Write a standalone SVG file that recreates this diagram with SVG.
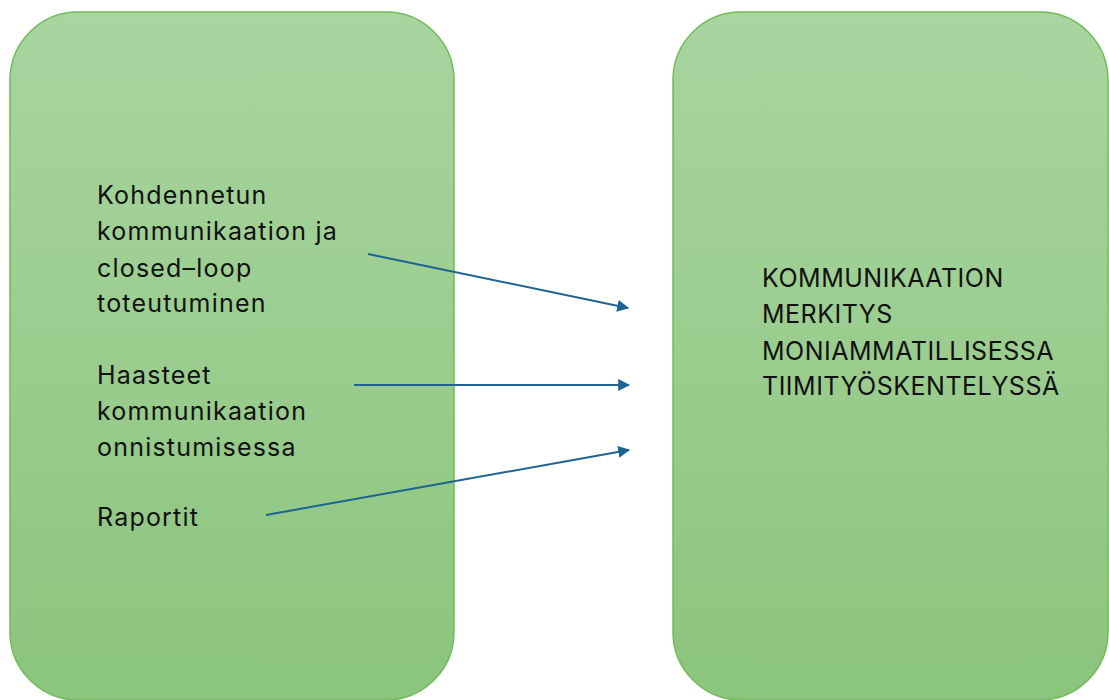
<svg xmlns="http://www.w3.org/2000/svg" width="1109" height="700" viewBox="0 0 1109 700">
  <style>
    .box { stroke: #70bc57; stroke-width: 1.5; }
    .lbl { font-family: Inter, "Open Sans", "Liberation Sans", sans-serif; font-size: 25px; letter-spacing: 1.2px; fill: #111; }
    .caps { letter-spacing: 0.5px; }
    .conn { stroke: #1f6391; stroke-width: 2; fill: none; marker-end: url(#arrow); }
  </style>
  <defs>
    <linearGradient id="green" x1="0" y1="0" x2="0" y2="1">
      <stop offset="0" stop-color="#a9d5a0"/>
      <stop offset="1" stop-color="#8bc47d"/>
    </linearGradient>
    <marker id="arrow" viewBox="0 0 10 10" refX="9" refY="5" markerWidth="6" markerHeight="6" orient="auto" markerUnits="strokeWidth">
      <path d="M0,0 L10,5 L0,10 z" fill="#1f6391"/>
    </marker>
  </defs>

  <g id="node-left">
    <rect class="box" x="10" y="12" width="444" height="688" rx="68" ry="68" fill="url(#green)"/>
    <text class="lbl" x="97" y="204">Kohdennetun</text>
    <text class="lbl" x="97" y="240">kommunikaation ja</text>
    <text class="lbl" x="97" y="277">closed–loop</text>
    <text class="lbl" x="97" y="312">toteutuminen</text>
    <text class="lbl" x="97" y="384">Haasteet</text>
    <text class="lbl" x="97" y="420">kommunikaation</text>
    <text class="lbl" x="97" y="456">onnistumisessa</text>
    <text class="lbl" x="97" y="526">Raportit</text>
  </g>

  <g id="node-right">
    <rect class="box" x="673" y="12" width="435" height="688" rx="68" ry="68" fill="url(#green)"/>
    <text class="lbl caps" x="762" y="287">KOMMUNIKAATION</text>
    <text class="lbl caps" x="762" y="323">MERKITYS</text>
    <text class="lbl caps" x="762" y="360">MONIAMMATILLISESSA</text>
    <text class="lbl caps" x="762" y="395">TIIMITYÖSKENTELYSSÄ</text>
  </g>

  <g id="connectors">
    <line class="conn" x1="368" y1="254" x2="628" y2="308"/>
    <line class="conn" x1="354" y1="385" x2="629" y2="385"/>
    <line class="conn" x1="266" y1="515" x2="629" y2="450"/>
  </g>
</svg>
